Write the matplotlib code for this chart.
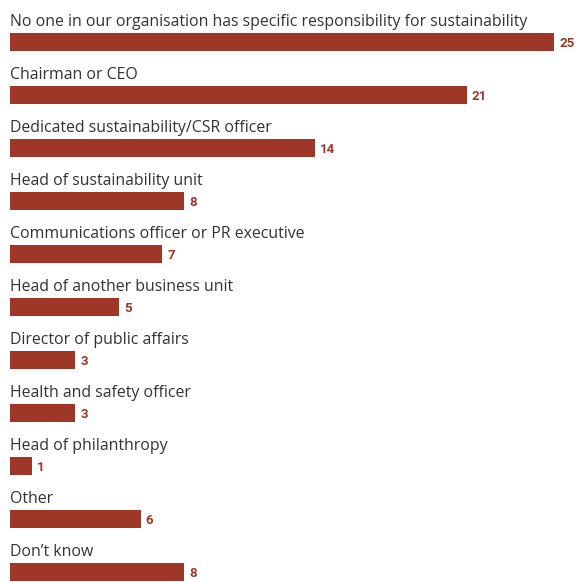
import matplotlib
matplotlib.use("Agg")
import matplotlib.pyplot as plt

categories = [
    "No one in our organisation has specific responsibility for sustainability",
    "Chairman or CEO",
    "Dedicated sustainability/CSR officer",
    "Head of sustainability unit",
    "Communications officer or PR executive",
    "Head of another business unit",
    "Director of public affairs",
    "Health and safety officer",
    "Head of philanthropy",
    "Other",
    "Don\u2019t know",
]
values = [25, 21, 14, 8, 7, 5, 3, 3, 1, 6, 8]

bar_color = "#9e3727"
text_color = "#333333"

fig = plt.figure(figsize=(5.76, 5.82), dpi=100)
ax = fig.add_axes([0, 0, 1, 1])
ax.set_axis_off()

px_per_unit = 21.76
ax.set_xlim(-10 / px_per_unit, (576 - 10) / px_per_unit)
ax.set_ylim((582 - 42) / 53, -42 / 53)

pos = list(range(len(categories)))
ax.barh(pos, values, height=0.34, color=bar_color, left=0)

for i, (c, v) in enumerate(zip(categories, values)):
    ax.text(0, i - 0.31, c, fontsize=11.45, color=text_color, family="Open Sans",
            va="baseline", ha="left")
    ax.text(v + 5 / px_per_unit, i + 0.03, str(v), fontsize=9.5, fontweight="bold",
            color=bar_color, family="Roboto", va="center", ha="left")

fig.savefig("out.png", dpi=100)
